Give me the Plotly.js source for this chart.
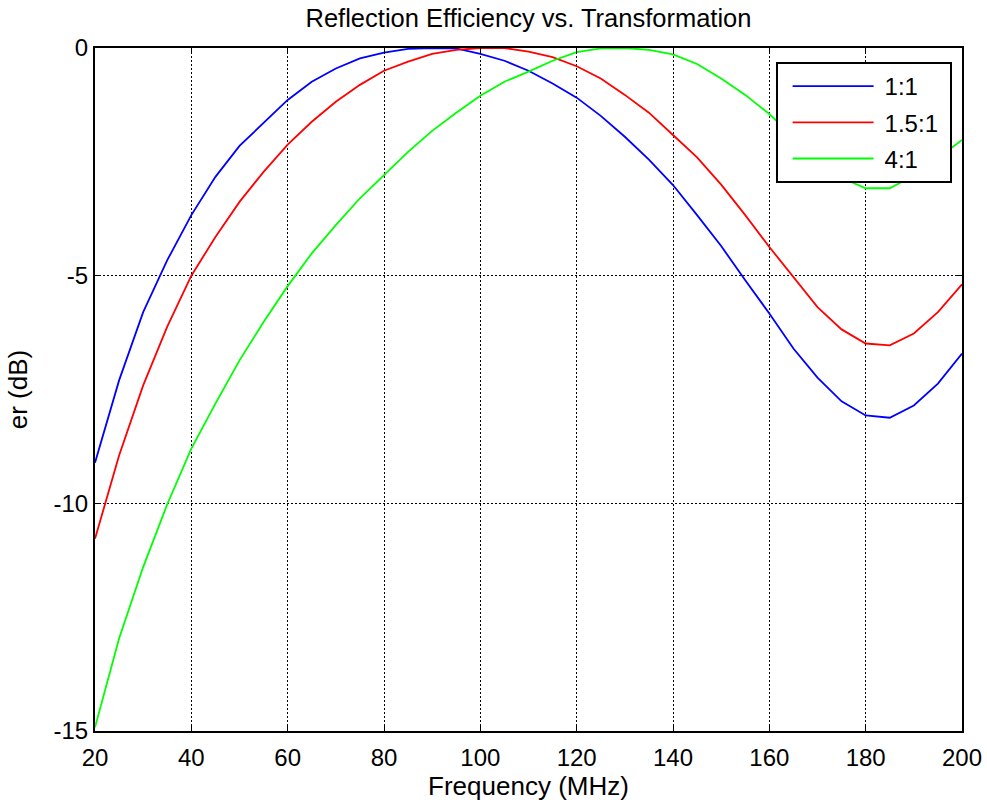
<!DOCTYPE html>
<html>
<head>
<meta charset="utf-8">
<script src="https://cdn.plot.ly/plotly-3.0.1.min.js"></script>
<style>
html,body{margin:0;padding:0;background:#fff;}
#chart{width:987px;height:804px;}
</style>
</head>
<body>
<div id="chart"></div>
<script>
const freq = [20,25,30,35,40,45,50,55,60,65,70,75,80,85,90,95,100,105,110,115,120,125,130,135,140,145,150,155,160,165,170,175,180,185,190,195,200];
const er_1to1 = [-9.11,-7.30,-5.80,-4.66,-3.67,-2.83,-2.15,-1.65,-1.14,-0.74,-0.45,-0.23,-0.10,-0.02,0.00,-0.01,-0.13,-0.28,-0.50,-0.78,-1.09,-1.49,-1.95,-2.45,-3.01,-3.67,-4.35,-5.10,-5.83,-6.60,-7.24,-7.76,-8.07,-8.12,-7.85,-7.37,-6.71];
const er_15to1 = [-10.78,-8.95,-7.41,-6.12,-5.00,-4.15,-3.38,-2.72,-2.12,-1.62,-1.18,-0.81,-0.50,-0.30,-0.13,-0.04,0.00,0.00,-0.08,-0.20,-0.40,-0.67,-1.03,-1.42,-1.91,-2.40,-3.00,-3.67,-4.37,-5.03,-5.69,-6.18,-6.49,-6.53,-6.27,-5.80,-5.19];
const er_4to1 = [-14.92,-12.97,-11.40,-10.02,-8.80,-7.81,-6.86,-6.02,-5.23,-4.51,-3.89,-3.30,-2.79,-2.28,-1.82,-1.42,-1.05,-0.74,-0.52,-0.28,-0.09,-0.01,0.00,-0.04,-0.14,-0.35,-0.67,-1.03,-1.45,-1.95,-2.45,-2.85,-3.08,-3.08,-2.80,-2.42,-2.02];
const seriesNames = ['1:1','1.5:1','4:1'];
const seriesColors = ['#0000ff','#ff0000','#00ff00'];
const xTicks = [20,40,60,80,100,120,140,160,180,200];
const yTicks = [-15,-10,-5,0];

const ys = [er_1to1, er_15to1, er_4to1];
const traces = ys.map((y,i)=>({
  x: freq, y: y, type:'scatter', mode:'lines', name: seriesNames[i], legendgroup:'g'+i,
  line:{color: seriesColors[i], width:1.8}
}));

const fontFam = '"Liberation Sans", Arial, Helvetica, sans-serif';
const axisCommon = {
  showline:true, linecolor:'#000', linewidth:2, mirror:'allticks',
  ticks:'inside', ticklen:6, tickwidth:1, tickcolor:'#000',
  showgrid:true, gridcolor:'#000', gridwidth:1, griddash:'2px,2px',
  zeroline:false, tickfont:{family:fontFam, size:24, color:'#000'}
};
const layout = {
  width:987, height:804,
  margin:{l:95, r:25, t:48, b:73},
  paper_bgcolor:'#fff', plot_bgcolor:'#fff',
  font:{family:fontFam, color:'#000'},
  title:{text:'Reflection Efficiency vs. Transformation', font:{family:fontFam, size:25.5, color:'#000'}, xref:'paper', x:0.5, xanchor:'center', y:0.977, yanchor:'middle'},
  xaxis: Object.assign({}, axisCommon, {range:[20,200], tickvals:xTicks, ticktext:xTicks.map(String), ticklabelstandoff:4,
    title:{text:'Frequency (MHz)', font:{family:fontFam, size:26, color:'#000'}, standoff:2}}),
  yaxis: Object.assign({}, axisCommon, {range:[-15,0], tickvals:yTicks, ticktext:yTicks.map(String),
    title:{text:'er (dB)', font:{family:fontFam, size:26, color:'#000'}, standoff:18}}),
  showlegend:true,
  legend:{x:0.785, y:0.9795, xanchor:'left', yanchor:'top', bgcolor:'#fff', bordercolor:'#000', borderwidth:2,
    font:{family:fontFam, size:24, color:'#000'}, itemwidth:97, traceorder:'grouped', tracegroupgap:2}
};
Plotly.newPlot('chart', traces, layout, {staticPlot:true, displayModeBar:false}).then(gd=>{
  gd.querySelectorAll('.legend .legendlines path').forEach(p=>p.setAttribute('d','M15,0h81'));
  const bg = gd.querySelector('.legend rect.bg');
  if (bg) {
    const w = parseFloat(bg.getAttribute('width'));
    if (!isNaN(w)) bg.setAttribute('width', String(w + 6));
  }
});
</script>
</body>
</html>
